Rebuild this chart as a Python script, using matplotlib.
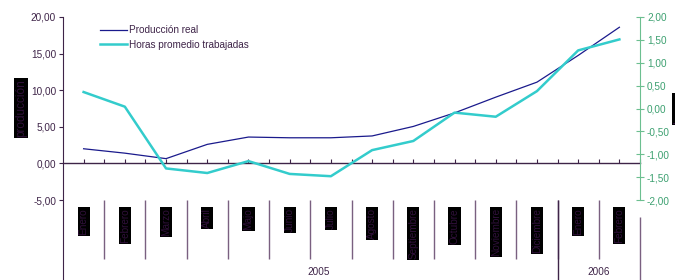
import matplotlib
matplotlib.use("Agg")
import matplotlib.pyplot as plt
import numpy as np

plt.rcParams["font.family"] = ["Liberation Sans", "DejaVu Sans"]

meses = ["Enero", "Febrero", "Marzo", "Abril", "Majo", "Junio", "Julio",
         "Agosto", "Septiembre", "Octubre", "Noviembre", "Diciembre",
         "Enero", "Febrero"]
anios = ["2005", "2006"]
produccion = [2.0, 1.4, 0.65, 2.6, 3.6, 3.5, 3.5, 3.75, 5.05, 6.9, 9.05,
              11.1, 14.75, 18.6]
horas = [0.36, 0.04, -1.31, -1.41, -1.15, -1.43, -1.48, -0.91, -0.71,
         -0.09, -0.18, 0.38, 1.27, 1.51]

purple = "#3e2448"
green = "#3ca070"
x = np.arange(len(meses))

fig = plt.figure(figsize=(6.75, 2.8), dpi=100)
ax = fig.add_axes([63 / 675, 0, 577 / 675, 263 / 280])
ax2 = ax.twinx()

ax.plot(x, produccion, color="#1a1a8c", lw=0.9, label="Producción real")
ax2.plot(x, horas, color="#33cccc", lw=1.8, label="Horas promedio trabajadas")

ax.set_xlim(-0.5, 13.5)
ax.set_ylim(20 - 263 / 7.32, 20)
lo, hi = ax.get_ylim()
ax2.set_ylim((lo - 7.5) / 6.25, (hi - 7.5) / 6.25)

ax.set_yticks(np.arange(-5, 21, 5))
ax.set_yticklabels([f"{v:.2f}".replace(".", ",") for v in np.arange(-5, 21, 5)])
ax2.set_yticks(np.arange(-2, 2.01, 0.5))
ax2.set_yticklabels([f"{v:.2f}".replace(".", ",") for v in np.arange(-2, 2.01, 0.5)])

ax.tick_params(axis="y", direction="out", length=3, width=0.8, color=purple,
               labelcolor=purple, labelsize=7.2, pad=2)
ax2.tick_params(axis="y", direction="inout", length=6, width=0.8, color="#6cbf90",
                labelcolor=green, labelsize=7.2, pad=2)

# category axis sitting at y = 0
ax.spines["bottom"].set_position(("data", 0))
ax.spines["bottom"].set_color(purple)
ax.spines["bottom"].set_linewidth(1)
ax.set_xticks(np.arange(0, 14, 0.5))
ax.set_xticklabels([])
ax.tick_params(axis="x", direction="in", length=3, width=0.8, color=purple)

for a in (ax, ax2):
    a.spines["top"].set_visible(False)
ax.spines["right"].set_visible(False)
ax2.spines["bottom"].set_visible(False)
ax2.spines["left"].set_visible(False)
ax.spines["left"].set_color(purple)
ax2.spines["right"].set_color("#6cbf90")
ax2.spines["right"].set_bounds(-2, 2)
ax.patch.set_visible(False)

trans = ax.get_xaxis_transform()
y_top = 80 / 263
y_div = 21 / 263
ax.vlines(np.arange(0.5, 13, 1), y_div, y_top, transform=trans,
          color="#7a6080", lw=1, clip_on=False)
ax.vlines([11.5], 0, y_top, transform=trans, color=purple, lw=1, clip_on=False)
ax.vlines([13.5], 0, 63 / 263, transform=trans, color="#7a6080", lw=1, clip_on=False)

for i, m in enumerate(meses):
    ax.text(i, 72 / 263, m, transform=trans, rotation=90, ha="center", va="top",
            fontsize=7.2, color="#30103a",
            bbox=dict(facecolor="black", edgecolor="none", pad=0.8))

ax.text(5.7, 8 / 263, anios[0], transform=trans, ha="center", va="center",
        fontsize=7.2, color=purple)
ax.text(12.5, 8 / 263, anios[1], transform=trans, ha="center", va="center",
        fontsize=7.2, color=purple)

# axis titles (rendered as dark boxes in the original)
fig.text(21 / 675, 1 - 108 / 280, "producción", rotation=90, ha="center",
         va="center", fontsize=8.5, color="#30103a",
         bbox=dict(facecolor="black", edgecolor="none", pad=1))
fig.text(673 / 675, 1 - 109 / 280, "horas", rotation=90, ha="left",
         va="center", fontsize=8.5, color="#30103a",
         bbox=dict(facecolor="black", edgecolor="none", pad=1))

h1, l1 = ax.get_legend_handles_labels()
h2, l2 = ax2.get_legend_handles_labels()
fig.legend(h1 + h2, l1 + l2, loc="upper left",
           bbox_to_anchor=(100 / 675, 1 - 25 / 280), frameon=False,
           fontsize=7.2, handlelength=2.7, handletextpad=0.2,
           labelspacing=0.45, borderpad=0, borderaxespad=0,
           labelcolor=purple)

fig.savefig("out.png", dpi=100)
